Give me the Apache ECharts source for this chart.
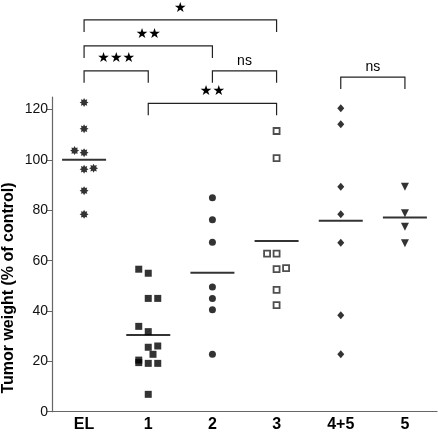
<!DOCTYPE html>
<html>
<head>
<meta charset="utf-8">
<script src="https://cdn.jsdelivr.net/npm/echarts@6/dist/echarts.min.js"></script>
<style>
html,body{margin:0;padding:0;background:#fff;}
#chart{width:438px;height:439px;}
</style>
</head>
<body>
<div id="chart"></div>
<script>
// ---- data ----
var categories = ['EL', '1', '2', '3', '4+5', '5'];
var yTicks = [0, 20, 40, 60, 80, 100, 120];

var valuesEL   = [122.8, 112.4, 103.7, 102.9, 96.3, 96.7, 87.8, 78.4];
var lanesEL    = [0, 0, -1, 0, 0, 1, 0, 0];
var values1    = [56.6, 55.0, 45.0, 45.0, 33.9, 31.8, 26.1, 25.6, 22.8, 20.5, 19.5, 19.2, 19.2, 6.9];
var lanes1     = [-1, 0, 0, 1, -1, 0, 1, 0, 0.5, -1, -1, 0, 1, 0];
var values2    = [85.0, 76.2, 67.3, 49.5, 45.0, 40.5, 22.8];
var lanes2     = [0, 0, 0, 0, 0, 0, 0];
var values3    = [111.5, 100.7, 62.8, 62.8, 56.6, 57.0, 48.4, 42.3];
var lanes3     = [0, 0, -1, 0, 0, 1, 0, 0];
var values45   = [120.5, 114.2, 89.4, 78.4, 67.1, 38.3, 22.8];
var lanes45    = [0, 0, 0, 0, 0, 0, 0];
var values5    = [89.4, 78.8, 73.5, 66.9];
var lanes5     = [0, 0, 0, 0];

// significance brackets: [from category, to category], level (axis units), label
var bracketPairs  = [[0, 3], [0, 2], [0, 1], [2, 3], [1, 3], [4, 5]];
var bracketLevels = [155.6, 145.3, 135.4, 135.4, 122.5, 132.9];
var bracketLabels = ['\u2605', '\u2605\u2605', '\u2605\u2605\u2605', 'ns', '\u2605\u2605', 'ns'];

// ---- rendering ----
var FONT = '"Liberation Sans", Arial, Helvetica, sans-serif';
var LANE_PX = 9.5;

function starPath(n, rOut, rIn) {
  var s = '';
  for (var i = 0; i < n * 2; i++) {
    var r = (i % 2 === 0) ? rOut : rIn;
    var a = Math.PI * i / n - Math.PI / 2;
    s += (i === 0 ? 'M' : 'L') + (r * Math.cos(a)).toFixed(3) + ' ' + (r * Math.sin(a)).toFixed(3) + ' ';
  }
  return 'path://' + s + 'Z';
}

function pts(catIdx, vals, lanes) {
  return vals.map(function (v, i) {
    return { value: [catIdx, v], symbolOffset: [lanes[i] * LANE_PX, 0] };
  });
}
function mean(a) { var s = 0; a.forEach(function (v) { s += v; }); return s / a.length; }

var groups = [valuesEL, values1, values2, values3, values45, values5];
var meanData = groups.map(function (g, i) { return [i, mean(g)]; });
var bracketData = bracketPairs.map(function (p, i) { return [p[0], p[1], bracketLevels[i], i]; });

var chart = echarts.init(document.getElementById('chart'), null, { renderer: 'canvas' });

var baseScatter = { type: 'scatter', z: 3, itemStyle: { color: '#000' } };

var option = {
  animation: false,
  backgroundColor: '#fff',
  textStyle: { fontFamily: FONT },
  grid: { left: 52, right: 1, top: 97, bottom: 27.3, containLabel: false },
  xAxis: {
    type: 'category',
    data: categories,
    boundaryGap: true,
    axisLine: { lineStyle: { color: '#666', width: 1.2 } },
    axisTick: { show: false },
    axisLabel: { color: '#000', fontSize: 16, fontWeight: 'bold', margin: 5, fontFamily: FONT },
    splitLine: { show: false }
  },
  yAxis: {
    type: 'value',
    min: 0, max: 125, interval: 20,
    axisLine: { show: true, lineStyle: { color: '#666', width: 1.2 } },
    axisTick: { show: true, length: 5, lineStyle: { color: '#666' } },
    axisLabel: {
      color: '#111', fontSize: 14, margin: 4, fontFamily: FONT,
      showMaxLabel: false,
      formatter: function (v) { return yTicks.indexOf(v) >= 0 ? String(v) : ''; }
    },
    splitLine: { show: false }
  },
  graphic: [{
    type: 'text', x: 9, y: 288, rotation: Math.PI / 2,
    style: {
      text: 'Tumor weight (% of control)', fill: '#000',
      font: 'bold 16px ' + FONT, align: 'center', verticalAlign: 'middle'
    }
  }],
  series: [
    Object.assign({}, baseScatter, {
      name: 'EL', data: pts(0, valuesEL, lanesEL),
      symbol: starPath(8, 1, 0.62), symbolSize: 9
    }),
    Object.assign({}, baseScatter, {
      name: '1', data: pts(1, values1, lanes1), symbol: 'rect', symbolSize: 7
    }),
    Object.assign({}, baseScatter, {
      name: '2', data: pts(2, values2, lanes2), symbol: 'circle', symbolSize: 7
    }),
    Object.assign({}, baseScatter, {
      name: '3', data: pts(3, values3, lanes3), symbol: 'rect', symbolSize: 6,
      itemStyle: { color: '#fff', borderColor: '#222', borderWidth: 1.8 }
    }),
    Object.assign({}, baseScatter, {
      name: '4+5', data: pts(4, values45, lanes45), symbol: 'diamond', symbolSize: [7, 8]
    }),
    Object.assign({}, baseScatter, {
      name: '5', data: pts(5, values5, lanes5), symbol: 'triangle', symbolSize: 8, symbolRotate: 180
    }),
    {
      type: 'custom', name: 'mean', z: 2, clip: false,
      data: meanData,
      encode: { x: 0, y: 1 },
      renderItem: function (params, api) {
        var c = api.coord([api.value(0), api.value(1)]);
        return {
          type: 'line',
          shape: { x1: c[0] - 22, y1: c[1], x2: c[0] + 22, y2: c[1] },
          style: { stroke: '#333', lineWidth: 2 }
        };
      }
    },
    {
      type: 'custom', name: 'brackets', z: 4, clip: false, silent: true,
      data: bracketData,
      encode: { x: [0, 1], y: 2 },
      renderItem: function (params, api) {
        var a = api.coord([api.value(0), api.value(2)]);
        var b = api.coord([api.value(1), api.value(2)]);
        var y = a[1];
        var leg = 12;
        var lbl = bracketLabels[api.value(3)];
        var isNs = lbl === 'ns';
        return {
          type: 'group',
          children: [
            {
              type: 'polyline',
              shape: { points: [[a[0], y + leg], [a[0], y], [b[0], y], [b[0], y + leg]] },
              style: { stroke: '#222', lineWidth: 1.2, fill: null }
            },
            {
              type: 'text',
              style: {
                x: (a[0] + b[0]) / 2, y: y - (isNs ? 10 : 12),
                text: lbl, fill: '#000',
                font: (isNs ? '14px ' + FONT : '14px "DejaVu Sans", ' + FONT),
                align: 'center', verticalAlign: 'middle'
              }
            }
          ]
        };
      }
    }
  ]
};

chart.setOption(option);
</script>
</body>
</html>
